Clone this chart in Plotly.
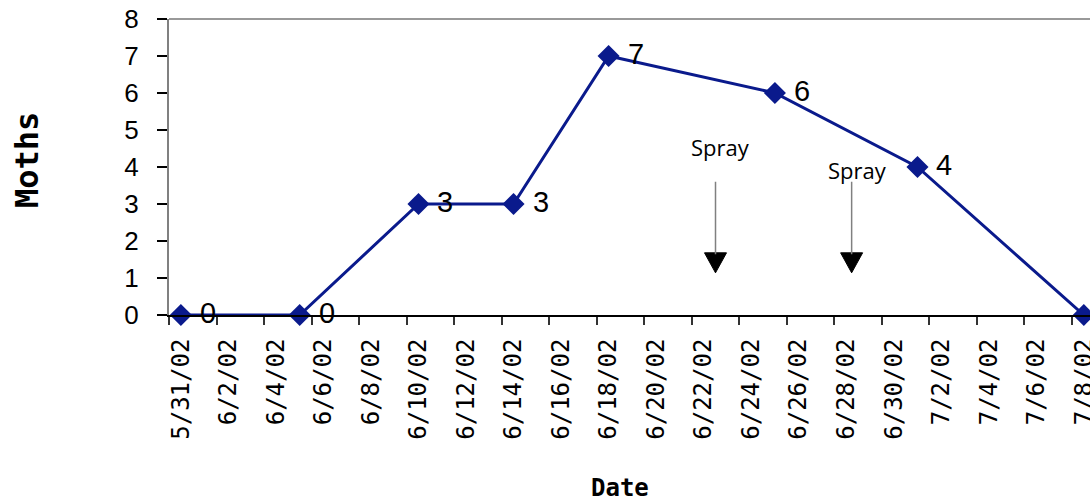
import plotly.graph_objects as go
import pandas as pd

# ---- data ----
dates = ["2002-05-31", "2002-06-05", "2002-06-10", "2002-06-14",
         "2002-06-18", "2002-06-25", "2002-07-01", "2002-07-08"]
moths = [0, 0, 3, 3, 7, 6, 4, 0]

tick_dates = ["2002-05-31", "2002-06-02", "2002-06-04", "2002-06-06", "2002-06-08",
              "2002-06-10", "2002-06-12", "2002-06-14", "2002-06-16", "2002-06-18",
              "2002-06-20", "2002-06-22", "2002-06-24", "2002-06-26", "2002-06-28",
              "2002-06-30", "2002-07-02", "2002-07-04", "2002-07-06", "2002-07-08"]
tick_labels = ["5/31/02", "6/2/02", "6/4/02", "6/6/02", "6/8/02",
               "6/10/02", "6/12/02", "6/14/02", "6/16/02", "6/18/02",
               "6/20/02", "6/22/02", "6/24/02", "6/26/02", "6/28/02",
               "6/30/02", "7/2/02", "7/4/02", "7/6/02", "7/8/02"]

spray_text = ["Spray", "Spray"]
spray_arrow_x = ["2002-06-22 12:00", "2002-06-28 05:30"]
spray_text_x = ["2002-06-22 17:30", "2002-06-28 11:00"]
spray_text_y = [4.54, 3.92]
arrow_tip_y = 1.14

# category boundaries (ticks sit between day slots)
boundary_ticks = [d - pd.Timedelta(hours=12) for d in pd.to_datetime(tick_dates)]

NAVY = "#0a1a8c"

fig = go.Figure()
fig.add_trace(go.Scatter(
    x=dates, y=moths, mode="lines+markers",
    line=dict(color=NAVY, width=3),
    marker=dict(symbol="diamond", size=17, color=NAVY),
    cliponaxis=False, showlegend=False,
))

# data labels to the right of each point
for xd, v in zip(dates, moths):
    fig.add_annotation(x=xd, y=v, text=str(v), showarrow=False,
                       xanchor="left", yanchor="middle", xshift=17, yshift=2,
                       font=dict(family="Liberation Sans, Arial", size=29, color="black"))

fig.update_layout(
    width=1090, height=501,
    margin=dict(l=169, r=0, t=19, b=186),
    paper_bgcolor="white", plot_bgcolor="white",
    font=dict(family="Liberation Sans, Arial", color="black"),
    xaxis=dict(
        type="date", automargin=False,
        range=["2002-05-30 12:00", "2002-07-08 06:15"],
        tickmode="array", tickvals=tick_dates, ticktext=tick_labels,
        ticks="", tickangle=-90, ticklabelstandoff=12,
        ticklabeloverflow="allow",
        tickfont=dict(family="DejaVu Sans Mono", size=24, color="black"),
        showline=True, linecolor="black", linewidth=2,
        showgrid=False, zeroline=False,
        minor=dict(tickmode="array", tickvals=boundary_ticks, ticks="outside",
                   ticklen=8, tickwidth=1.5, tickcolor="#333333", showgrid=False),
    ),
    yaxis=dict(
        range=[0, 8], dtick=1, tick0=0, automargin=False,
        ticks="outside", ticklen=10, tickwidth=1.5, tickcolor="black",
        ticklabelstandoff=13,
        tickfont=dict(family="Liberation Sans, Arial", size=26, color="black"),
        showline=True, linecolor="#808080", linewidth=2,
        showgrid=False, zeroline=False,
    ),
)

# top border of the plot area
fig.add_shape(type="line", xref="paper", yref="paper", x0=0, x1=1, y0=1, y1=1,
              line=dict(color="#999999", width=2))

# axis titles
fig.add_annotation(text="<b>Moths</b>", xref="paper", yref="paper",
                   x=-0.154, y=0.524, xanchor="center", yanchor="middle",
                   textangle=-90, showarrow=False,
                   font=dict(family="DejaVu Sans Mono", size=32, color="black"))
fig.add_annotation(text="<b>Date</b>", xref="paper", yref="paper",
                   x=0.49, y=-0.584, xanchor="center", yanchor="middle",
                   showarrow=False,
                   font=dict(family="DejaVu Sans Mono", size=24, color="black"))

# Spray annotations
for tx, ty, ax_x, t in zip(spray_text_x, spray_text_y, spray_arrow_x, spray_text):
    fig.add_annotation(text=t, x=tx, y=ty, showarrow=False,
                       xanchor="center", yanchor="middle",
                       font=dict(family="Open Sans", size=22, color="black"))
    fig.add_annotation(x=ax_x, y=arrow_tip_y + 0.5, ax=0, ay=-74,
                       showarrow=True, arrowhead=0, arrowwidth=1.5,
                       arrowcolor="#808080", text="")
    fig.add_shape(type="path", xref="x", yref="y",
                  xsizemode="pixel", ysizemode="pixel",
                  xanchor=ax_x, yanchor=arrow_tip_y,
                  path="M-11,20 L11,20 L0,0 Z",
                  fillcolor="black", line=dict(color="black", width=1))

fig.write_html("out.html", config={"displayModeBar": False},
               post_script="document.body.style.margin='0';")
